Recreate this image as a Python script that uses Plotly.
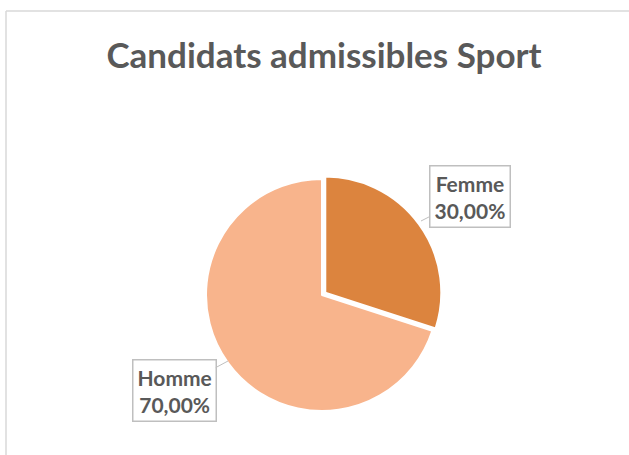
import plotly.graph_objects as go

labels = ["Femme", "Homme"]
values = [30, 70]
pct_text = ["30,00%", "70,00%"]
colors = ["#DC843E", "#F8B48C"]

W, H = 629, 455


def px(x):
    return x / W


def py(y):
    return 1 - y / H


cx, cy, r = 322, 295, 116
pull = 0.035
half = r * (1 + pull)

fig = go.Figure(go.Pie(
    labels=labels, values=values, sort=False, direction="clockwise", rotation=0,
    marker=dict(colors=colors, line=dict(color="white", width=2)),
    pull=[pull, 0], textinfo="none", hoverinfo="label+percent", showlegend=False,
    domain=dict(x=[px(cx - half), px(cx + half)],
                y=[py(cy + half), py(cy - half)]),
))

font_lbl = dict(family="Lato", size=21, color="#595959")
annots = []
annots.append(dict(xref="paper", yref="paper", x=px(421), y=py(221),
                   ax=49, ay=-25, axref="pixel", ayref="pixel",
                   showarrow=True, arrowhead=0, arrowwidth=1, arrowcolor="#BFBFBF",
                   text=f"<b>{labels[0]}<br>{pct_text[0]}</b>", font=font_lbl,
                   bordercolor="#BFBFBF", borderwidth=1.5, borderpad=4, bgcolor="white",
                   align="center"))
annots.append(dict(xref="paper", yref="paper", x=px(228), y=py(361),
                   ax=-54, ay=29, axref="pixel", ayref="pixel",
                   showarrow=True, arrowhead=0, arrowwidth=1, arrowcolor="#BFBFBF",
                   text=f"<b>{labels[1]}<br>{pct_text[1]}</b>", font=font_lbl,
                   bordercolor="#BFBFBF", borderwidth=1.5, borderpad=4, bgcolor="white",
                   align="center"))

fig.update_layout(
    width=W, height=H, margin=dict(l=0, r=0, t=0, b=0),
    paper_bgcolor="white", plot_bgcolor="white",
    title=dict(text="<b>Candidats admissibles Sport</b>", x=px(324), xanchor="center",
               y=py(56), yanchor="middle",
               font=dict(family="Lato", size=35, color="#595959")),
    annotations=annots,
    shapes=[
        dict(type="line", xref="paper", yref="paper", x0=px(6), x1=1.1, y0=py(11), y1=py(11),
             line=dict(color="#D9D9D9", width=1.5)),
        dict(type="line", xref="paper", yref="paper", x0=px(6), x1=px(6), y0=py(11), y1=-0.1,
             line=dict(color="#D9D9D9", width=1.5)),
    ],
)

fig.write_html("out.html", config={"displayModeBar": False},
               post_script="document.body.style.margin='0px';document.body.style.overflow='hidden';")
